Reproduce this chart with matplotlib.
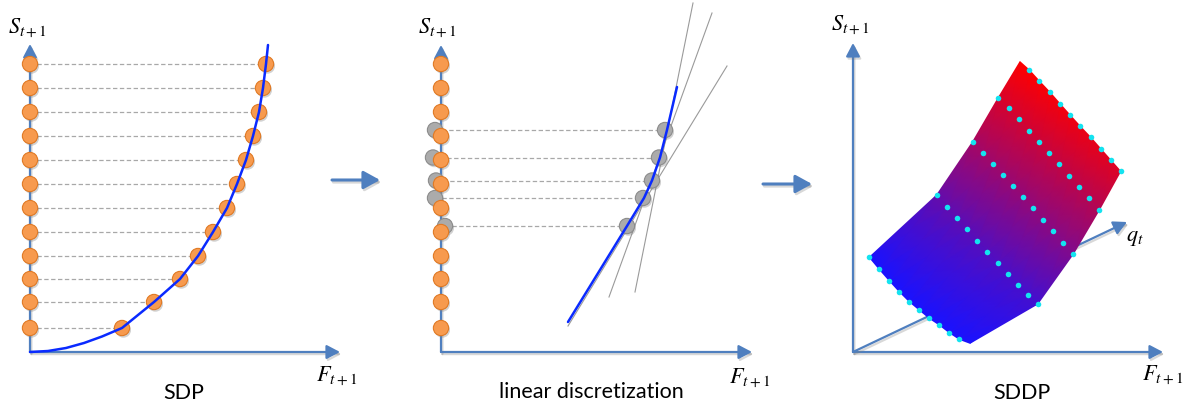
import matplotlib.pyplot as plt
import matplotlib.patheffects as pe
import numpy as np
from matplotlib.patches import FancyArrowPatch
from matplotlib.colors import LinearSegmentedColormap

plt.rcParams['mathtext.fontset'] = 'stix'
plt.rcParams['font.family'] = ['Lato', 'DejaVu Sans']

W, H = 1202, 407
AXIS = '#4F7FBF'
ORANGE = '#F79A4E'
ORANGE_EDGE = '#E07A25'
GREY_DOT = '#ABABAB'
GREY_EDGE = '#8C8C8C'
DASH = '#A8A8A8'
CURVE = '#0A2AFF'
CYAN = '#14E3F0'

# storage levels on the S axis (height above origin)
levels = [24, 50, 73, 96, 120, 144, 168, 192, 216, 240, 264, 288]

# SDP: value curve and the point it reaches at each level
sdp_dots_x = [92, 124, 150, 168, 183, 197, 207, 216, 223, 229, 233, 236]
sdp_curve_x = [0, 18, 36, 54, 72, 92, 124, 150, 168, 183, 197, 207, 216, 223, 229, 233, 236, 238]
sdp_curve_y = [0, 1, 4, 9, 15.5, 24, 50, 73, 96, 120, 144, 168, 192, 216, 240, 264, 288, 307]

# linear discretization: cut points and their tangents
cut_levels = [126, 154, 171.5, 194.5, 222]
cut_left_x = [4, -6, -5, -8, -6]
cut_right_x = [186, 202, 211, 218, 224]
lin_curve_x = [127, 186, 203, 211, 219, 226, 236]
lin_curve_y = [30, 126, 154, 171.5, 194.5, 222, 265]
tangent_x = [(194, 252), (168, 271), (127, 286)]
tangent_y = [(60, 349), (55, 339), (26, 286)]

# SDDP: surface rows (left edge -> right edge), one list per cut
surf_x = [
    [167, 176.3, 186.3, 197, 207, 217, 227, 237.7, 247.7, 257.7, 267.7],
    [145.3, 155.7, 166.3, 176.3, 186.3, 196.3, 206.3, 216.3, 226.3, 236.3, 246.3],
    [119.7, 130, 140, 150, 160, 170, 179.7, 189.7, 200.3, 210.3, 220.3],
    [83.7, 93.7, 103.7, 113.7, 123.7, 134.3, 144.7, 154.7, 164.7, 174.7, 184.7],
    [16.3, 26.3, 36.3, 46.3, 56.3, 66.3, 76.3, 86.3, 96.3, 106.3, 117],
]
surf_y = [
    [290.3, 282, 271, 259.7, 248.3, 237, 226, 214.7, 203.3, 192, 180.7],
    [254.3, 243.7, 232.7, 221.3, 210.3, 198.7, 187.7, 176.3, 164.7, 153.7, 142],
    [210.3, 199.3, 188.3, 177, 166, 155.3, 143.7, 132, 121, 109.3, 98],
    [157, 145.3, 133.7, 122.7, 111.3, 100.3, 89.3, 78, 67, 57, 48],
    [94.7, 82.7, 71.3, 60.3, 50.3, 42, 33.7, 27, 19.3, 12.7, 8.7],
]

fig = plt.figure(figsize=(W / 100, H / 100), dpi=100)

dot_shadow = [pe.SimplePatchShadow(offset=(1, -1.5), shadow_rgbFace='#808080', alpha=0.35), pe.Normal()]
line_shadow = [pe.SimpleLineShadow(offset=(1, -1.5), shadow_color='#808080', alpha=0.3), pe.Normal()]


def panel(x0, x1, ox):
    ax = fig.add_axes([x0 / W, 0, (x1 - x0) / W, 1])
    ax.set_xlim(x0 - ox, x1 - ox)
    ax.set_ylim(352 - H, 352)
    ax.axis('off')
    return ax


def arrow(ax, start, end, lw=1.6, hl=0.8, hw=0.42, z=2):
    a = FancyArrowPatch(start, end, arrowstyle=f'-|>,head_length={hl},head_width={hw}',
                        mutation_scale=10, lw=lw, color=AXIS, shrinkA=0, shrinkB=0,
                        zorder=z, clip_on=False, path_effects=line_shadow)
    ax.add_patch(a)


def axes_frame(ax, ytip, xtip, xlabel_pos, ylabel_pos):
    arrow(ax, (0, 0), (0, ytip))
    arrow(ax, (0, 0), (xtip, 0))
    ax.text(*ylabel_pos, r'$S_{t+1}$', fontsize=16, ha='center', va='center')
    ax.text(*xlabel_pos, r'$F_{t+1}$', fontsize=16, ha='center', va='center')


def orange_dots(ax):
    ax.plot([0] * len(levels), levels, 'o', ms=11, mfc=ORANGE, mec=ORANGE_EDGE, mew=0.8,
            zorder=6, path_effects=dot_shadow)


# --- SDP ---
ax1 = panel(0, 400, 30)
axes_frame(ax1, 308, 310, (307, -24), (-3, 324))
for lev, x in zip(levels, sdp_dots_x):
    ax1.plot([0, x], [lev, lev], color=DASH, lw=0.9, ls=(0, (3.5, 2)), zorder=3)
ax1.plot(sdp_curve_x, sdp_curve_y, color=CURVE, lw=1.8, zorder=5, solid_capstyle='round')
ax1.plot(sdp_dots_x, levels, 'o', ms=11, mfc=ORANGE, mec=ORANGE_EDGE, mew=0.8,
         zorder=4, path_effects=dot_shadow)
orange_dots(ax1)
ax1.text(153.5, -41, 'SDP', fontsize=15.5, ha='center', va='center')
arrow(ax1, (302, 172), (350, 172), lw=2.2, hl=1.0, hw=0.55)

# --- linear discretization ---
ax2 = panel(400, 800, 441)
axes_frame(ax2, 307, 311, (309, -26), (-4, 324))
for tx, ty in zip(tangent_x, tangent_y):
    ax2.plot(tx, ty, color='#9A9A9A', lw=0.8, zorder=3)
for lev, xl, xr in zip(cut_levels, cut_left_x, cut_right_x):
    ax2.plot([xl, xr], [lev, lev], color=DASH, lw=0.9, ls=(0, (3.5, 2)), zorder=3)
ax2.plot(cut_left_x, cut_levels, 'o', ms=11, mfc=GREY_DOT, mec=GREY_EDGE, mew=0.8,
         zorder=4, path_effects=dot_shadow)
ax2.plot(cut_right_x, cut_levels, 'o', ms=11, mfc=GREY_DOT, mec=GREY_EDGE, mew=0.8,
         zorder=4, path_effects=dot_shadow)
ax2.plot(lin_curve_x, lin_curve_y, color=CURVE, lw=1.8, zorder=5, solid_capstyle='round')
orange_dots(ax2)
ax2.text(150, -40.5, 'linear discretization', fontsize=15.5, ha='center', va='center')
arrow(ax2, (322, 168), (371, 168), lw=2.2, hl=1.0, hw=0.55)

# --- SDDP ---
ax3 = panel(800, 1202, 853)
axes_frame(ax3, 309, 310, (310, -23), (-3, 327))
arrow(ax3, (0, 0), (274, 130))
ax3.text(282, 114, r'$q_t$', fontsize=16, ha='center', va='center')

X = np.array(surf_x)
Y = np.array(surf_y)
# colour follows the surface height as seen in the projection
C = Y + 0.667 * X
cmap = LinearSegmentedColormap.from_list('bluered', ['#1A12FF', '#FF0000'])
ax3.pcolormesh(X, Y, C, shading='gouraud', cmap=cmap, vmin=120, vmax=400, zorder=4)
for i in range(len(surf_x)):
    xs, ys = surf_x[i], surf_y[i]
    if i == 0:
        xs, ys = xs[1:], ys[1:]
    if i == len(surf_x) - 1:
        xs, ys = xs[:-1], ys[:-1]
    ax3.plot(xs, ys, 'o', ms=4, color=CYAN, mew=0, zorder=5)
ax3.text(169, -41, 'SDDP', fontsize=15.5, ha='center', va='center')

fig.savefig('out.png', dpi=100)
